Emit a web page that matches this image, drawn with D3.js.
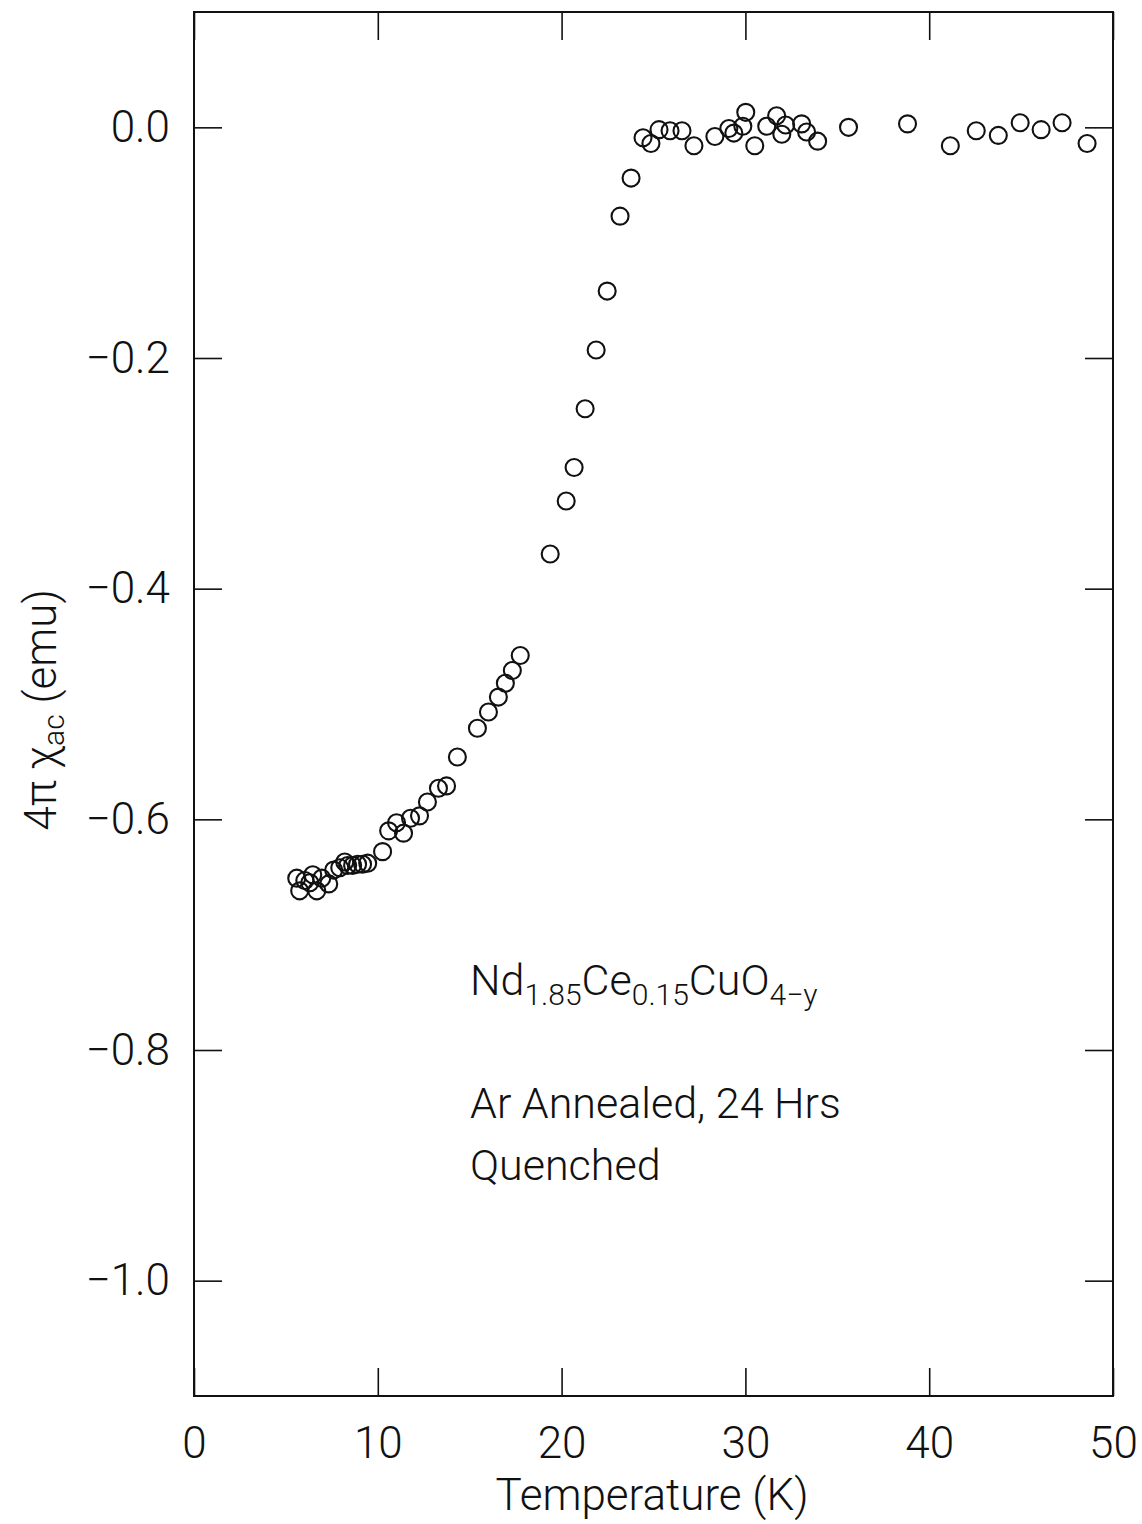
<!DOCTYPE html>
<html>
<head>
<meta charset="utf-8">
<script src="https://cdn.jsdelivr.net/npm/d3@7"></script>
<style>
  html, body { margin: 0; padding: 0; background: #fff; }
  svg text { font-family: Roboto, "DejaVu Sans Condensed", sans-serif; font-weight: 300; fill: #111; }
</style>
</head>
<body>
<svg id="chart" width="1142" height="1524"></svg>
<script>
// AC susceptibility of Nd1.85Ce0.15CuO4-y versus temperature
const temperature = [
  5.59, 5.75, 6.03, 6.30, 6.46, 6.68, 6.95, 7.33, 7.60, 7.93,
  8.20, 8.36, 8.63, 8.90, 9.17, 9.45, 10.26, 10.59, 11.02, 11.40,
  11.78, 12.27, 12.70, 13.30, 13.74, 14.33, 15.42, 16.02, 16.56, 16.94,
  17.32, 17.75, 19.38, 20.25, 20.68, 21.28, 21.88, 22.48, 23.18, 23.78,
  24.43, 24.86, 25.30, 25.90, 26.55, 27.20, 28.34, 29.10, 29.37, 29.86,
  30.02, 30.51, 31.16, 31.70, 31.98, 32.19, 33.06, 33.33, 33.93, 35.61,
  38.82, 41.15, 42.56, 43.76, 44.95, 46.09, 47.23, 48.59
];
const chiAC = [
  -0.651, -0.662, -0.653, -0.655, -0.648, -0.662, -0.651, -0.656, -0.644, -0.642,
  -0.637, -0.640, -0.640, -0.639, -0.639, -0.638, -0.628, -0.610, -0.603, -0.612,
  -0.599, -0.597, -0.585, -0.573, -0.571, -0.546, -0.521, -0.507, -0.494, -0.482,
  -0.471, -0.458, -0.370, -0.324, -0.295, -0.244, -0.193, -0.142, -0.077, -0.044,
  -0.009, -0.014, -0.002, -0.003, -0.003, -0.016, -0.008, -0.001, -0.005, 0.001,
  0.013, -0.016, 0.001, 0.010, -0.006, 0.002, 0.003, -0.004, -0.012, 0.000,
  0.003, -0.016, -0.003, -0.007, 0.004, -0.002, 0.004, -0.014
];
const xTicks = [0, 10, 20, 30, 40, 50];
const yTicks = [0.0, -0.2, -0.4, -0.6, -0.8, -1.0];
const annotationLines = ["Ar Annealed, 24 Hrs", "Quenched"];

const svg = d3.select("#chart");
const plot = { left: 194, right: 1113, top: 12, bottom: 1396 };

const x = d3.scaleLinear().domain([0, 50]).range([plot.left, plot.right]);
const y = d3.scaleLinear().domain([-1.1, 0.1]).range([plot.bottom, plot.top]);

const tickLen = 28;
const fmtY = v => (v < 0 ? "\u2212" : "") + Math.abs(v).toFixed(1);

// bottom axis with labels
svg.append("g")
  .attr("transform", `translate(0,${plot.bottom})`)
  .call(d3.axisBottom(x).tickValues(xTicks).tickSizeInner(-tickLen).tickSizeOuter(0).tickPadding(31).tickFormat(d3.format("d")))
  .call(g => g.select(".domain").remove());
// top axis ticks only
svg.append("g")
  .attr("transform", `translate(0,${plot.top})`)
  .call(d3.axisTop(x).tickValues(xTicks).tickSizeInner(-tickLen).tickSizeOuter(0).tickFormat(""))
  .call(g => g.select(".domain").remove());
// left axis with labels
svg.append("g")
  .attr("transform", `translate(${plot.left},0)`)
  .call(d3.axisLeft(y).tickValues(yTicks).tickSizeInner(-tickLen).tickSizeOuter(0).tickPadding(24).tickFormat(fmtY))
  .call(g => g.select(".domain").remove());
// right axis ticks only
svg.append("g")
  .attr("transform", `translate(${plot.right},0)`)
  .call(d3.axisRight(y).tickValues(yTicks).tickSizeInner(-tickLen).tickSizeOuter(0).tickFormat(""))
  .call(g => g.select(".domain").remove());

svg.selectAll(".tick line").attr("stroke", "#111").attr("stroke-width", 1.6);
svg.selectAll(".tick text")
  .attr("font-size", 44)
  .attr("font-family", "Roboto, sans-serif")
  .attr("font-weight", 300)
  .attr("fill", "#111");

// frame
svg.append("rect")
  .attr("x", plot.left).attr("y", plot.top)
  .attr("width", plot.right - plot.left).attr("height", plot.bottom - plot.top)
  .attr("fill", "none").attr("stroke", "#111").attr("stroke-width", 2);

// data markers
const pts = temperature.map((t, i) => ({ t, v: chiAC[i] }));
svg.append("g").selectAll("circle").data(pts).join("circle")
  .attr("cx", d => x(d.t)).attr("cy", d => y(d.v)).attr("r", 8.5)
  .attr("fill", "none").attr("stroke", "#111").attr("stroke-width", 2.1);

// axis titles
svg.append("text")
  .attr("x", 652).attr("y", 1510).attr("text-anchor", "middle").attr("font-size", 44)
  .text("Temperature (K)");

const yt = svg.append("text")
  .attr("transform", "translate(56,710) rotate(-90)")
  .attr("text-anchor", "middle").attr("font-size", 44);
yt.append("tspan").text("4\u03C0 \u03C7");
yt.append("tspan").attr("font-size", 30).attr("dy", 8).text("ac");
yt.append("tspan").attr("dy", -8).text(" (emu)");

// sample annotation
const f = svg.append("text").attr("x", 470).attr("y", 995).attr("font-size", 43);
const parts = [["Nd", 0], ["1.85", 1], ["Ce", 0], ["0.15", 1], ["CuO", 0], ["4\u2212y", 1]];
let lvl = 0;
parts.forEach(([s, sub]) => {
  const dy = (sub - lvl) * 10;
  lvl = sub;
  f.append("tspan").attr("dy", dy).attr("font-size", sub ? 30 : 43).text(s);
});

svg.append("g").selectAll("text").data(annotationLines).join("text")
  .attr("x", 470).attr("y", (d, i) => 1118 + i * 62)
  .attr("font-size", 43)
  .text(d => d);
</script>
</body>
</html>
